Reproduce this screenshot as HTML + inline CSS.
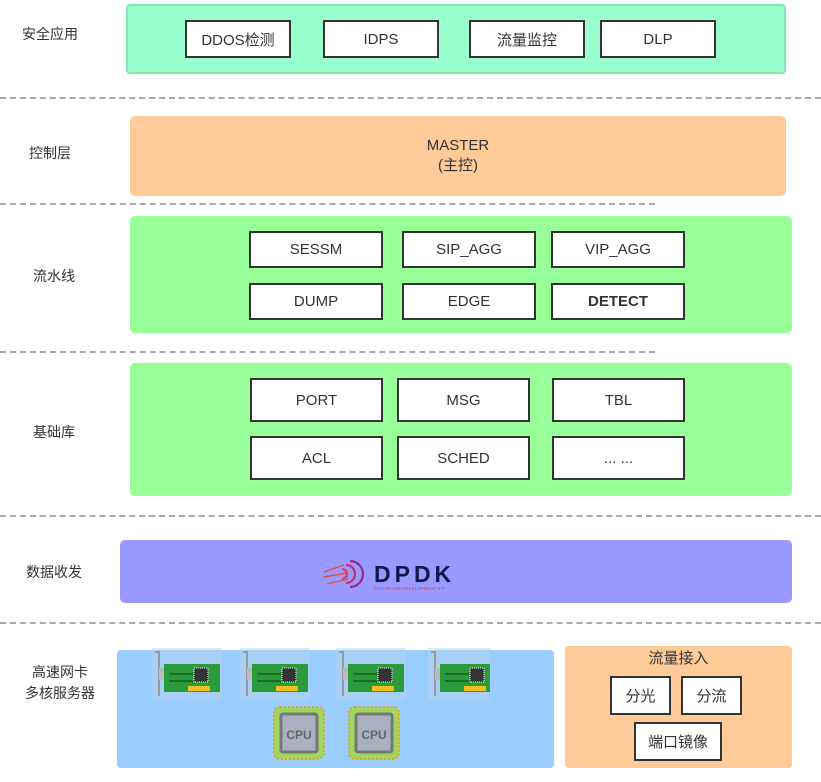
<!DOCTYPE html>
<html><head><meta charset="utf-8"><style>
body{margin:0;width:821px;height:782px;background:#fff;position:relative;overflow:hidden;font-family:"Liberation Sans","Noto Sans CJK SC",sans-serif;color:#333}
.a{position:absolute;box-sizing:border-box}
.lbl{position:absolute;font-size:14px;color:#333;text-align:center;line-height:21px}
.bx{position:absolute;box-sizing:border-box;background:#fff;border:2px solid #333;display:flex;align-items:center;justify-content:center;font-size:15px;color:#333}
.dash{position:absolute;height:0;border-top:2px dashed #aaa}
</style></head><body>
<div class="lbl" style="left:10px;top:24px;width:80px">安全应用</div>
<div class="lbl" style="left:10px;top:143px;width:80px">控制层</div>
<div class="lbl" style="left:14px;top:266px;width:80px">流水线</div>
<div class="lbl" style="left:14px;top:422px;width:80px">基础库</div>
<div class="lbl" style="left:14px;top:562px;width:80px">数据收发</div>
<div class="lbl" style="left:20px;top:662px;width:80px">高速网卡<br>多核服务器</div>

<div class="dash" style="left:0;top:97px;width:821px"></div>
<div class="dash" style="left:0;top:203px;width:655px"></div>
<div class="dash" style="left:0;top:351px;width:655px"></div>
<div class="dash" style="left:0;top:515px;width:821px"></div>
<div class="dash" style="left:0;top:622px;width:821px"></div>

<div class="a" style="left:126px;top:4px;width:660px;height:70px;background:#99ffcc;border:2px solid #7fe8b0;border-radius:4px"></div>
<div class="bx" style="left:185px;top:20px;width:106px;height:38px">DDOS检测</div>
<div class="bx" style="left:323px;top:20px;width:116px;height:38px">IDPS</div>
<div class="bx" style="left:469px;top:20px;width:116px;height:38px">流量监控</div>
<div class="bx" style="left:600px;top:20px;width:116px;height:38px">DLP</div>

<div class="a" style="left:130px;top:116px;width:656px;height:80px;background:#ffcc99;border-radius:5px;text-align:center;font-size:15px;line-height:20px;padding-top:20px">MASTER<br>(主控)</div>

<div class="a" style="left:130px;top:216px;width:662px;height:117px;background:#99ff99;border-radius:5px"></div>
<div class="bx" style="left:249px;top:231px;width:134px;height:37px">SESSM</div>
<div class="bx" style="left:402px;top:231px;width:134px;height:37px">SIP_AGG</div>
<div class="bx" style="left:551px;top:231px;width:134px;height:37px">VIP_AGG</div>
<div class="bx" style="left:249px;top:283px;width:134px;height:37px">DUMP</div>
<div class="bx" style="left:402px;top:283px;width:134px;height:37px">EDGE</div>
<div class="bx" style="left:551px;top:283px;width:134px;height:37px;font-weight:bold">DETECT</div>

<div class="a" style="left:130px;top:363px;width:662px;height:133px;background:#99ff99;border-radius:5px"></div>
<div class="bx" style="left:250px;top:378px;width:133px;height:44px">PORT</div>
<div class="bx" style="left:397px;top:378px;width:133px;height:44px">MSG</div>
<div class="bx" style="left:552px;top:378px;width:133px;height:44px">TBL</div>
<div class="bx" style="left:250px;top:436px;width:133px;height:44px">ACL</div>
<div class="bx" style="left:397px;top:436px;width:133px;height:44px">SCHED</div>
<div class="bx" style="left:552px;top:436px;width:133px;height:44px">... ...</div>

<div class="a" style="left:120px;top:540px;width:672px;height:63px;background:#9999ff;border-radius:5px"></div>
<svg class="a" style="left:322px;top:558px" width="160" height="34">
<g fill="none" stroke-width="2.2"><path d="M28 3 a13 13 0 0 1 0 26" stroke="#9a2a8a"/><path d="M24 7 a9 9 0 0 1 0 18" stroke="#c03070"/><path d="M20 11 a5 5 0 0 1 0 10" stroke="#e04050"/>
<path d="M2 14 L22 7 M2 19 L24 15 M5 26 L26 21" stroke="#e05040" stroke-width="1.4"/></g>
<text x="52" y="24" font-family="Liberation Sans,sans-serif" font-size="23" font-weight="600" letter-spacing="4" fill="#0b1a4a">DPDK</text>
<text x="52" y="32" font-family="Liberation Sans,sans-serif" font-size="4.5" fill="#e04050">DATA PLANE DEVELOPMENT KIT</text>
</svg>

<div class="a" style="left:117px;top:650px;width:437px;height:118px;background:#99ccff;border-radius:4px"></div>
<svg class="a" style="left:150px;top:648px" width="340" height="52">
<defs><g id="n"><rect x="0" y="0" width="70" height="52" fill="#b8d4f0" opacity=".5"/><path d="M3 4 h4 v44" stroke="#999" stroke-width="2" fill="none"/><rect x="7" y="20" width="10" height="12" fill="#bbb"/><rect x="12" y="16" width="56" height="28" fill="#2a9a3a"/><rect x="42" y="20" width="14" height="14" fill="#333" stroke="#fff" stroke-dasharray="1 1"/><path d="M17 26 h24 M17 33 h24" stroke="#1a6a2a" stroke-width="2"/><rect x="36" y="38" width="22" height="5" fill="#f0c020"/></g></defs>
<use href="#n" x="2"/><use href="#n" x="90"/><use href="#n" x="186"/><use href="#n" x="278"/>
</svg>
<svg class="a" style="left:270px;top:705px" width="140" height="60">
<defs><g id="c"><rect x="2" y="2" width="50" height="52" rx="6" fill="#9fd860" stroke="#e8a020" stroke-dasharray="2 2" stroke-width="2"/><rect x="9" y="9" width="36" height="38" rx="2" fill="#aab0c0" stroke="#777" stroke-width="3"/><text x="27" y="34" text-anchor="middle" font-family="Liberation Sans,sans-serif" font-size="12" font-weight="bold" fill="#666">CPU</text></g></defs>
<use href="#c" x="2"/><use href="#c" x="77"/>
</svg>

<div class="a" style="left:565px;top:646px;width:227px;height:122px;background:#ffcc99;border-radius:4px"></div>
<div class="lbl" style="left:565px;top:648px;width:227px;font-size:15px">流量接入</div>
<div class="bx" style="left:610px;top:676px;width:61px;height:39px">分光</div>
<div class="bx" style="left:681px;top:676px;width:61px;height:39px">分流</div>
<div class="bx" style="left:634px;top:722px;width:88px;height:39px">端口镜像</div>
</body></html>
